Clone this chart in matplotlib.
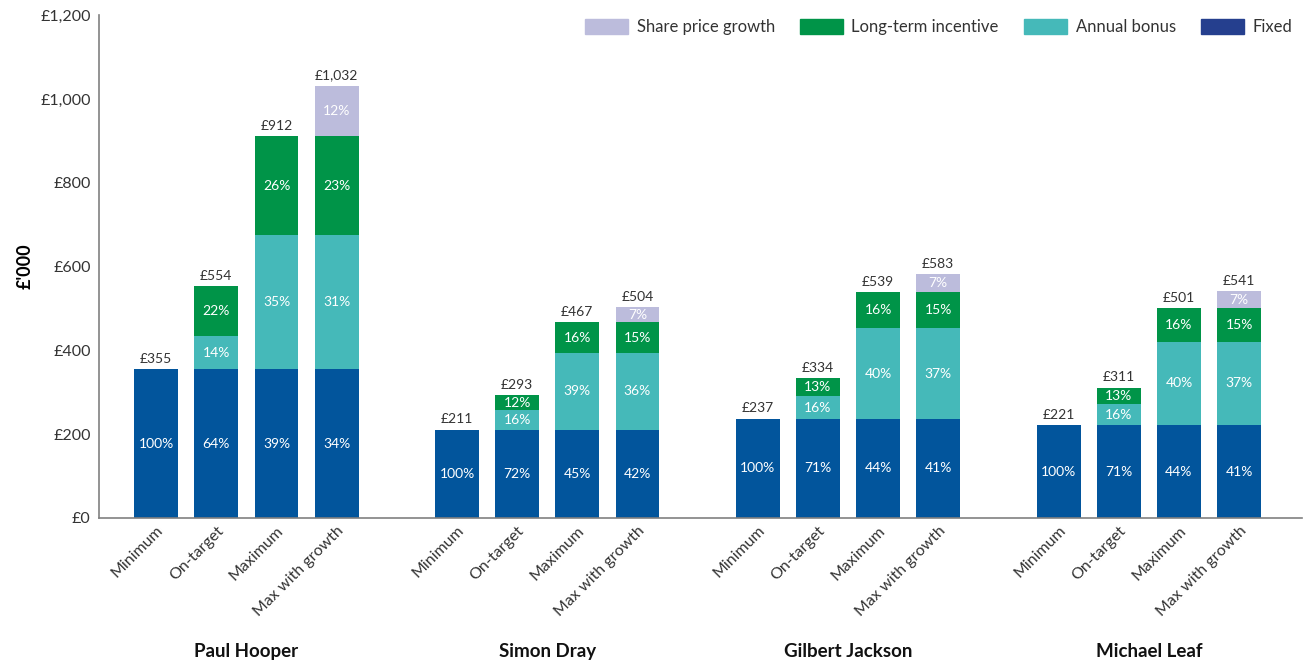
import matplotlib.pyplot as plt
from matplotlib.patches import Patch
import numpy as np

plt.rcParams['font.family'] = ['Lato', 'DejaVu Sans']

people = ['Paul Hooper', 'Simon Dray', 'Gilbert Jackson', 'Michael Leaf']
scenarios = ['Minimum', 'On-target', 'Maximum', 'Max with growth']

# £'000, four scenarios per person
fixed = [355, 355, 355, 355, 211, 211, 211, 211, 237, 237, 237, 237, 221, 221, 221, 221]
bonus = [0, 79, 320, 320, 0, 47, 182, 182, 0, 53, 215.5, 215.5, 0, 50, 200, 200]
lti = [0, 120, 237, 237, 0, 35, 74, 74, 0, 44, 86.5, 86.5, 0, 40, 80, 80]
growth = [0, 0, 0, 120, 0, 0, 0, 37, 0, 0, 0, 43.6, 0, 0, 0, 40]

c_fixed = '#02559c'
c_fixed_leg = '#253f8e'
c_bonus = '#45b9b9'
c_lti = '#009448'
c_growth = '#bcbcdc'

fig = plt.figure(figsize=(13.05, 6.64), dpi=100)
ax = fig.add_axes([0.0759, 0.22, 0.922, 0.757])

n = len(scenarios)
x = np.array([g * 5 + i for g in range(len(people)) for i in range(n)], dtype=float)
w = 0.73

stacks = [(fixed, c_fixed), (bonus, c_bonus), (lti, c_lti), (growth, c_growth)]
totals = np.sum([np.array(s) for s, _ in stacks], axis=0)
bottom = np.zeros(len(x))
for vals, col in stacks:
    vals = np.array(vals, dtype=float)
    ax.bar(x, vals, w, bottom=bottom, color=col, linewidth=0)
    for xi, v, b, t in zip(x, vals, bottom, totals):
        if v > 0:
            ax.text(xi, b + v / 2, f'{round(v / t * 100):.0f}%', ha='center', va='center',
                    color='white', fontsize=10)
    bottom += vals

for xi, t in zip(x, totals):
    ax.text(xi, t + 10, f'£{round(t):,}', ha='center', va='bottom', color='#333333', fontsize=10)

ax.set_ylim(0, 1200)
ax.set_xlim(-0.95, 19.05)
ax.set_yticks(range(0, 1201, 200))
ax.set_yticklabels([f'£{v:,}' for v in range(0, 1201, 200)], fontsize=11.5, color='#333333')
ax.tick_params(axis='y', length=0, pad=6)
ax.tick_params(axis='x', length=0, pad=4)
ax.set_xticks(x)
ax.set_xticklabels(scenarios * len(people), rotation=45, ha='right', rotation_mode='anchor',
                   fontsize=11.5, color='#333333')
for s in ['top', 'right']:
    ax.spines[s].set_visible(False)
for s in ['left', 'bottom']:
    ax.spines[s].set_color('#808080')
    ax.spines[s].set_linewidth(1.2)

ax.set_ylabel("£'000", fontsize=13, fontweight='bold')
ax.yaxis.set_label_coords(-0.054, 0.5)

for g, name in enumerate(people):
    ax.text(g * 5 + 1.5, -320, name, ha='center', va='center', fontsize=13.5,
            fontweight='bold', color='#111111')

handles = [Patch(color=c_growth, label='Share price growth'),
           Patch(color=c_lti, label='Long-term incentive'),
           Patch(color=c_bonus, label='Annual bonus'),
           Patch(color=c_fixed_leg, label='Fixed')]
ax.legend(handles=handles, loc='upper right', bbox_to_anchor=(1.004, 1.022), ncol=4, frameon=False,
          fontsize=12, handlelength=2.6, handleheight=1.0, columnspacing=1.5, handletextpad=0.5,
          labelcolor='#333333')

fig.savefig('out.png', dpi=100)
